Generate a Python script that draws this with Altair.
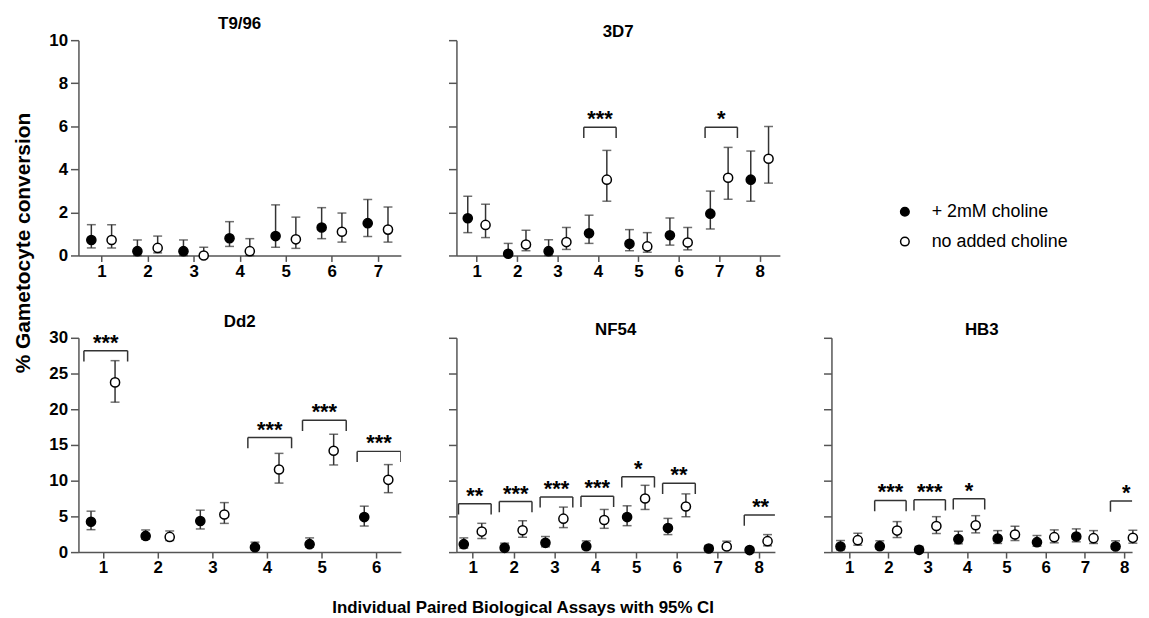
import altair as alt
import pandas as pd

FONT = "Liberation Sans"
SERIES = ["+ 2mM choline", "no added choline"]

# ---------------- T9/96 ----------------
T996_ASSAYS = [1, 2, 3, 4, 5, 6, 7]
T996_CHOL = [0.72, 0.2, 0.2, 0.8, 0.9, 1.3, 1.5]
T996_CHOL_LO = [0.35, 0.0, 0.0, 0.42, 0.38, 0.78, 0.88]
T996_CHOL_HI = [1.43, 0.72, 0.72, 1.57, 2.35, 2.22, 2.6]
T996_NONE = [0.72, 0.35, 0.0, 0.2, 0.75, 1.1, 1.2]
T996_NONE_LO = [0.35, 0.12, 0.0, 0.0, 0.33, 0.62, 0.62]
T996_NONE_HI = [1.43, 0.9, 0.38, 0.78, 1.78, 1.97, 2.25]
T996_SIG_ASSAY = []
T996_SIG_LABEL = []
T996_SIG_Y = []

# ---------------- 3D7 ----------------
D37_ASSAYS = [1, 2, 3, 4, 5, 6, 7, 8]
D37_CHOL = [1.73, 0.08, 0.2, 1.03, 0.54, 0.94, 1.94, 3.52]
D37_CHOL_LO = [1.06, 0.0, 0.0, 0.56, 0.22, 0.48, 1.23, 2.52]
D37_CHOL_HI = [2.75, 0.56, 0.73, 1.87, 1.2, 1.74, 2.99, 4.85]
D37_NONE = [1.42, 0.51, 0.62, 3.52, 0.42, 0.6, 3.61, 4.49]
D37_NONE_LO = [0.83, 0.22, 0.28, 2.52, 0.15, 0.26, 2.61, 3.36]
D37_NONE_HI = [2.38, 1.17, 1.3, 4.88, 1.06, 1.3, 5.02, 5.99]
D37_SIG_ASSAY = [4, 7]
D37_SIG_LABEL = ["***", "*"]
D37_SIG_Y = [5.96, 5.96]

# ---------------- Dd2 ----------------
DD2_ASSAYS = [1, 2, 3, 4, 5, 6]
DD2_CHOL = [4.25, 2.27, 4.35, 0.69, 1.11, 4.9]
DD2_CHOL_LO = [3.14, 1.8, 3.24, 0.32, 0.69, 3.65]
DD2_CHOL_HI = [5.73, 3.1, 5.87, 1.39, 1.99, 6.43]
DD2_NONE = [23.76, 2.13, 5.27, 11.56, 14.19, 10.12]
DD2_NONE_LO = [20.99, 1.62, 4.02, 9.66, 12.2, 8.32]
DD2_NONE_HI = [26.8, 2.96, 6.93, 13.82, 16.5, 12.25]
DD2_SIG_ASSAY = [1, 4, 5, 6]
DD2_SIG_LABEL = ["***", "***", "***", "***"]
DD2_SIG_Y = [28.2, 16.04, 18.45, 14.1]

# ---------------- NF54 ----------------
NF54_ASSAYS = [1, 2, 3, 4, 5, 6, 7, 8]
NF54_CHOL = [1.11, 0.6, 1.3, 0.83, 4.9, 3.38, 0.51, 0.28]
NF54_CHOL_LO = [0.56, 0.23, 0.74, 0.37, 3.7, 2.45, 0.23, 0.05]
NF54_CHOL_HI = [1.99, 1.25, 2.18, 1.57, 6.48, 4.72, 0.93, 0.6]
NF54_NONE = [2.87, 3.06, 4.68, 4.49, 7.5, 6.39, 0.79, 1.53]
NF54_NONE_LO = [1.9, 2.08, 3.43, 3.33, 5.97, 4.95, 0.42, 0.88]
NF54_NONE_HI = [4.03, 4.4, 6.3, 5.97, 9.35, 8.15, 1.53, 2.45]
NF54_SIG_ASSAY = [1, 2, 3, 4, 5, 6, 8]
NF54_SIG_LABEL = ["**", "***", "***", "***", "*", "**", "**"]
NF54_SIG_Y = [6.76, 7.08, 7.73, 7.82, 10.55, 9.63, 5.19]

# ---------------- HB3 ----------------
HB3_ASSAYS = [1, 2, 3, 4, 5, 6, 7, 8]
HB3_CHOL = [0.79, 0.83, 0.32, 1.81, 1.9, 1.39, 2.18, 0.79]
HB3_CHOL_LO = [0.32, 0.42, 0.0, 1.16, 1.21, 0.83, 1.44, 0.42]
HB3_CHOL_HI = [1.62, 1.58, 0.79, 2.92, 3.01, 2.32, 3.25, 1.58]
HB3_NONE = [1.67, 3.01, 3.66, 3.76, 2.46, 2.09, 1.95, 2.0]
HB3_NONE_LO = [0.97, 2.04, 2.6, 2.69, 1.62, 1.3, 1.21, 1.25]
HB3_NONE_HI = [2.64, 4.27, 4.96, 5.1, 3.62, 3.11, 3.01, 3.06]
HB3_SIG_ASSAY = [2, 3, 4, 8]
HB3_SIG_LABEL = ["***", "***", "*", "*"]
HB3_SIG_Y = [7.23, 7.33, 7.46, 7.14]

INK = "#333333"
OFFSET = 0.22
BR_LEFT = 0.35
BR_RIGHT = 0.45

LEGEND = alt.Legend(
    title=None, orient="none", legendX=824, legendY=164,
    labelFont=FONT, labelFontSize=18, labelColor="black",
    symbolType="circle", symbolSize=75, symbolStrokeColor="black",
    symbolStrokeWidth=1.5, rowPadding=12, labelOffset=18,
)


def panel(title, assays, chol, chol_lo, chol_hi, none, none_lo, none_hi,
          sig_assay, sig_label, sig_y, ymax, ystep, xdom, width, show_labels):
    rows = []
    for i, a in enumerate(assays):
        rows.append(dict(x=a - OFFSET, y=chol[i], lo=chol_lo[i], hi=chol_hi[i], series=SERIES[0]))
        rows.append(dict(x=a + OFFSET, y=none[i], lo=none_lo[i], hi=none_hi[i], series=SERIES[1]))
    df = pd.DataFrame(rows)

    xs = alt.Scale(domain=xdom, nice=False, zero=False)
    ys = alt.Scale(domain=[0, ymax], nice=False)
    xax = alt.Axis(values=assays, title=None, tickSize=6, labelPadding=2, format="d",
                   grid=False, labelAngle=0, labelOverlap=False)
    yax = alt.Axis(values=list(range(0, ymax + 1, ystep)), title=None, labels=show_labels,
                   tickSize=8, labelPadding=3, grid=False, labelOverlap=False,
                   tickCount=len(range(0, ymax + 1, ystep)))

    base = alt.Chart(df)
    bars = base.mark_rule(color=INK, strokeWidth=1.5).encode(
        x=alt.X("x:Q", scale=xs, axis=xax),
        y=alt.Y("lo:Q", scale=ys, axis=yax),
        y2="hi:Q",
    )
    cap_lo = base.mark_tick(orient="horizontal", size=9, thickness=1.5, color=INK).encode(
        x="x:Q", y="lo:Q")
    cap_hi = base.mark_tick(orient="horizontal", size=9, thickness=1.5, color=INK).encode(
        x="x:Q", y="hi:Q")
    pts = base.mark_circle(size=85, stroke="black", strokeWidth=1.5, opacity=1).encode(
        x="x:Q", y="y:Q",
        fill=alt.Fill("series:N", scale=alt.Scale(domain=SERIES, range=["black", "white"]),
                      legend=LEGEND),
    )
    layers = [bars, cap_lo, cap_hi, pts]

    if sig_assay:
        leg = 0.05 * ymax
        sdf = pd.DataFrame(dict(
            x1=[a - BR_LEFT for a in sig_assay],
            x2=[a + BR_RIGHT for a in sig_assay],
            xm=[a + (BR_RIGHT - BR_LEFT) / 2 for a in sig_assay],
            top=sig_y,
            bot=[v - leg for v in sig_y],
            label=sig_label,
        ))
        sb = alt.Chart(sdf)
        layers += [
            sb.mark_rule(color=INK, strokeWidth=1.5, clip=True).encode(x="x1:Q", x2="x2:Q", y="top:Q"),
            sb.mark_rule(color=INK, strokeWidth=1.5, clip=True).encode(x="x1:Q", y="top:Q", y2="bot:Q"),
            sb.mark_rule(color=INK, strokeWidth=1.5, clip=True).encode(x="x2:Q", y="top:Q", y2="bot:Q"),
            sb.mark_text(font=FONT, fontSize=22, fontWeight="bold", color="black",
                         baseline="alphabetic", dy=-1).encode(x="xm:Q", y="top:Q", text="label:N"),
        ]
    return alt.layer(*layers).properties(width=width, height=217 if ymax == 10 else 216,
                                         title=title)


t9 = panel("T9/96", T996_ASSAYS, T996_CHOL, T996_CHOL_LO, T996_CHOL_HI, T996_NONE,
           T996_NONE_LO, T996_NONE_HI, T996_SIG_ASSAY, T996_SIG_LABEL, T996_SIG_Y,
           10, 2, [0.5, 7.5], 325, True)
d37 = panel("3D7", D37_ASSAYS, D37_CHOL, D37_CHOL_LO, D37_CHOL_HI, D37_NONE,
            D37_NONE_LO, D37_NONE_HI, D37_SIG_ASSAY, D37_SIG_LABEL, D37_SIG_Y,
            10, 2, [0.5, 8.5], 326, False)
dd2 = panel("Dd2", DD2_ASSAYS, DD2_CHOL, DD2_CHOL_LO, DD2_CHOL_HI, DD2_NONE,
            DD2_NONE_LO, DD2_NONE_HI, DD2_SIG_ASSAY, DD2_SIG_LABEL, DD2_SIG_Y,
            30, 5, [0.55, 6.45], 325, True)
nf54 = panel("NF54", NF54_ASSAYS, NF54_CHOL, NF54_CHOL_LO, NF54_CHOL_HI, NF54_NONE,
             NF54_NONE_LO, NF54_NONE_HI, NF54_SIG_ASSAY, NF54_SIG_LABEL, NF54_SIG_Y,
             30, 5, [0.6, 8.4], 321, False)
hb3 = panel("HB3", HB3_ASSAYS, HB3_CHOL, HB3_CHOL_LO, HB3_CHOL_HI, HB3_NONE,
            HB3_NONE_LO, HB3_NONE_HI, HB3_SIG_ASSAY, HB3_SIG_LABEL, HB3_SIG_Y,
            30, 5, [0.55, 8.2], 303, False)

row1 = alt.hconcat(t9, d37, spacing=47)
row2 = alt.hconcat(dd2, nf54, hb3, spacing=47)
body = alt.vconcat(row1, row2, spacing=34).properties(
    title=alt.TitleParams("% Gametocyte conversion", orient="left", anchor="middle",
                          fontSize=21, fontWeight="bold", font=FONT, color="black",
                          offset=15, dx=53))
chart = alt.vconcat(body).properties(
    title=alt.TitleParams("Individual Paired Biological Assays with 95% CI", orient="bottom",
                          anchor="middle", fontSize=17, fontWeight="bold", font=FONT,
                          color="black", offset=24, dx=-54),
    padding={"left": 5, "top": 5, "right": 0, "bottom": 0},
).configure_view(stroke=None).configure_axis(
    domainColor="#555555", tickColor="#555555", domainWidth=1.5, tickWidth=1.5,
    labelFont=FONT, labelFontWeight="bold", labelFontSize=17, labelColor="black",
).configure_title(
    font=FONT, fontSize=17, fontWeight="bold", color="black", offset=-2, anchor="middle",
)

chart.save("out.html", embed_options={"renderer": "svg", "actions": False})
